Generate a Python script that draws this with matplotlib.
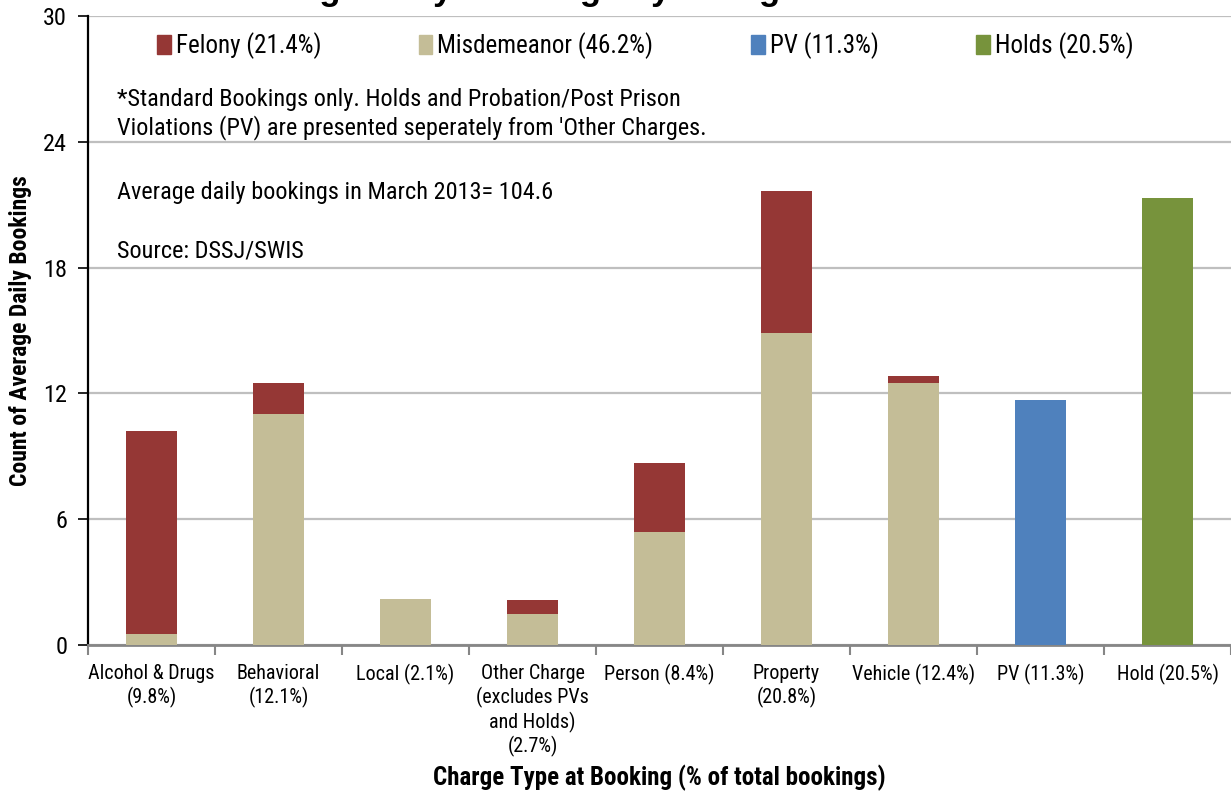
import matplotlib
matplotlib.use('Agg')
import matplotlib.pyplot as plt
import numpy as np
from matplotlib.patches import Patch
from matplotlib import font_manager

# ---- data ----
categories = ['Alcohol & Drugs\n(9.8%)', 'Behavioral\n(12.1%)', 'Local (2.1%)',
              'Other Charge\n(excludes PVs\nand Holds)\n(2.7%)', 'Person (8.4%)',
              'Property\n(20.8%)', 'Vehicle (12.4%)', 'PV (11.3%)', 'Hold (20.5%)']
misdemeanor = [0.5, 11.0, 2.2, 1.5, 5.4, 14.9, 12.5, 0, 0]
felony = [9.7, 1.5, 0, 0.65, 3.3, 6.75, 0.35, 0, 0]
pv = [0, 0, 0, 0, 0, 0, 0, 11.7, 0]
holds = [0, 0, 0, 0, 0, 0, 0, 0, 21.3]
legend_labels = ['Felony (21.4%)', 'Misdemeanor (46.2%)', 'PV (11.3%)', 'Holds (20.5%)']
y_ticks = [0, 6, 12, 18, 24, 30]

C_FEL = '#953735'
C_MIS = '#C4BD97'
C_PV = '#4F81BD'
C_HOLD = '#77933C'

# narrow font like Arial Narrow, pick what is installed
names = {f.name for f in font_manager.fontManager.ttflist}
FONT = 'Liberation Sans'
for cand in ['Liberation Sans Narrow', 'Arial Narrow', 'Roboto Condensed',
             'PT Sans Narrow', 'Archivo Narrow', 'Asap Condensed']:
    if cand in names:
        FONT = cand
        break
plt.rcParams['font.family'] = [FONT, 'DejaVu Sans']

fig = plt.figure(figsize=(12.31, 7.94), dpi=100)
ax = fig.add_axes([0.0715, 0.1877, 0.9285, 0.7921])

x = np.arange(len(categories))
w = 0.4
ax.bar(x, misdemeanor, w, color=C_MIS, zorder=3)
ax.bar(x, felony, w, bottom=misdemeanor, color=C_FEL, zorder=3)
ax.bar(x, pv, w, color=C_PV, zorder=3)
ax.bar(x, holds, w, color=C_HOLD, zorder=3)

ax.set_xlim(-0.5, len(categories) - 0.5)
ax.set_ylim(0, 30)
ax.set_yticks(y_ticks)
ax.tick_params(axis='y', labelsize=17.5, length=7, width=1.2, direction='out', pad=8)
ax.yaxis.grid(True, color='#BFBFBF', linewidth=1.6, zorder=0)

ax.set_xticks(x)
ax.set_xticklabels(categories, fontsize=14.5, linespacing=1.22)
ax.tick_params(axis='x', length=0, pad=14)
ax.set_xticks(np.arange(len(categories) + 1) - 0.5, minor=True)
ax.tick_params(axis='x', which='minor', length=7, width=1.5, color='#868686')

for s in ['top', 'right']:
    ax.spines[s].set_visible(False)
ax.spines['left'].set_linewidth(1.6)
ax.spines['left'].set_color('black')
ax.spines['bottom'].set_linewidth(2)
ax.spines['bottom'].set_color('#868686')

ax.set_ylabel('Count of Average Daily Bookings', fontsize=17, fontweight='bold', labelpad=8)
ax.set_xlabel('Charge Type at Booking (% of total bookings)', fontsize=18,
              fontweight='bold', labelpad=5)

handles = [Patch(color=c) for c in [C_FEL, C_MIS, C_PV, C_HOLD]]
ax.legend(handles, legend_labels, loc='center left', bbox_to_anchor=(0.0405, 0.953),
          ncol=4, frameon=False, fontsize=18, handlelength=0.55, handleheight=0.8,
          handletextpad=0.2, columnspacing=3.9)

ax.text(0.025, 0.844, "*Standard Bookings only. Holds and Probation/Post Prison\n"
        "Violations (PV) are presented seperately from 'Other Charges.",
        transform=ax.transAxes, fontsize=17.5, va='center', linespacing=1.2)
ax.text(0.025, 0.72, 'Average daily bookings in March 2013= 104.6',
        transform=ax.transAxes, fontsize=17.5, va='center')
ax.text(0.025, 0.626, 'Source: DSSJ/SWIS', transform=ax.transAxes, fontsize=17.5, va='center')

# title sits above the canvas in the original, only its descenders show
fig.text(224 / 1231, 1.0, 'Average Daily Bookings by Charge Level', fontsize=25,
         fontweight='bold', family='Liberation Sans', ha='left', va='baseline')

fig.savefig('out.png', dpi=100)
